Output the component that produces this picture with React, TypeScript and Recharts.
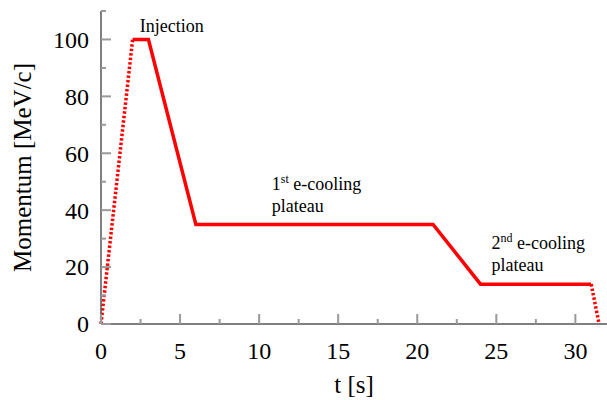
import React from "react";
import { LineChart, Line, XAxis, YAxis, ReferenceDot } from "recharts";

// ramp cycle: time [s] and momentum [MeV/c]
const times = [0, 2, 3, 6, 21, 24, 31, 31.5];
const solidMomentum = [null, 100, 100, 35, 35, 14, 14, null];
const dottedMomentum = [0, 100, null, null, null, null, 14, 0];

const xTicks = [0, 2.5, 5, 7.5, 10, 12.5, 15, 17.5, 20, 22.5, 25, 27.5, 30];
const xLabels = [0, 5, 10, 15, 20, 25, 30];
const yTicks = [0, 10, 20, 30, 40, 50, 60, 70, 80, 90, 100, 110];
const yLabels = [0, 20, 40, 60, 80, 100];

const annotations = [
  { t: 2.45, p: 102.6, lines: [{ text: "Injection" }] },
  {
    t: 10.8,
    p: 47.0,
    lines: [{ text: "1", sup: "st", rest: " e-cooling" }, { text: "plateau" }],
  },
  {
    t: 24.7,
    p: 26.3,
    lines: [{ text: "2", sup: "nd", rest: " e-cooling" }, { text: "plateau" }],
  },
];

const data = times.map((t, i) => ({
  t,
  solid: solidMomentum[i],
  dotted: dottedMomentum[i],
}));

const FONT = "'Liberation Serif', 'Times New Roman', serif";
const TICK_COLOR = "#999";
const AXIS_COLOR = "#555";
const textStyle = { fontFamily: FONT, fill: "#000" };

const BottomTick = ({ x, y, payload }: any) => {
  const major = payload.value % 5 === 0;
  return (
    <g>
      <line x1={x} x2={x} y1={y} y2={y - (major ? 10 : 5)} stroke={TICK_COLOR} strokeWidth={2} />
      {xLabels.includes(payload.value) && (
        <text x={x} y={y + 35} textAnchor="middle" style={{ ...textStyle, fontSize: 24 }}>
          {payload.value}
        </text>
      )}
    </g>
  );
};

const TopTick = ({ x, y, payload }: any) => {
  const major = payload.value % 5 === 0;
  return <line x1={x} x2={x} y1={y} y2={y + (major ? 10 : 5)} stroke={TICK_COLOR} strokeWidth={2} />;
};

const LeftTick = ({ x, y, payload }: any) => {
  const major = payload.value % 20 === 0;
  return (
    <g>
      <line x1={x} x2={x + (major ? 10 : 5)} y1={y} y2={y} stroke={TICK_COLOR} strokeWidth={2} />
      {yLabels.includes(payload.value) && (
        <text x={x - 12} y={y} dy="0.35em" textAnchor="end" style={{ ...textStyle, fontSize: 24 }}>
          {payload.value}
        </text>
      )}
    </g>
  );
};

const RightTick = ({ x, y, payload }: any) => {
  const major = payload.value % 20 === 0;
  return <line x1={x} x2={x - (major ? 10 : 5)} y1={y} y2={y} stroke={TICK_COLOR} strokeWidth={2} />;
};

const Annotation = ({ viewBox, lines }: any) => {
  const { x, y } = viewBox;
  return (
    <text x={x} y={y} style={{ ...textStyle, fontSize: 18 }}>
      {lines.map((l: any, i: number) => (
        <tspan key={i} x={x} y={y + i * 22}>
          {l.text}
          {l.sup && (
            <tspan style={{ fontSize: 12 }} dy={-7}>
              {l.sup}
            </tspan>
          )}
          {l.rest && <tspan dy={l.sup ? 7 : 0}>{l.rest}</tspan>}
        </tspan>
      ))}
    </text>
  );
};

export default function App() {
  return (
    <div style={{ position: "absolute", left: 0, top: 0 }}>
      <LineChart
        width={607}
        height={400}
        data={data}
        margin={{ top: 11, right: 0, bottom: 0, left: 0 }}
      >
        <XAxis
          dataKey="t"
          type="number"
          domain={[0, 32]}
          ticks={xTicks}
          interval={0}
          height={76}
          tickSize={0}
          tickMargin={0}
          tickLine={false}
          axisLine={{ stroke: AXIS_COLOR, strokeWidth: 1.5 }}
          tick={<BottomTick />}
          label={{
            content: ({ viewBox }: any) => (
              <text
                x={viewBox.x + viewBox.width / 2}
                y={viewBox.y + 69}
                textAnchor="middle"
                style={{ ...textStyle, fontSize: 25 }}
              >
                t [s]
              </text>
            ),
          }}
        />
        <XAxis
          xAxisId="top"
          orientation="top"
          dataKey="t"
          type="number"
          domain={[0, 32]}
          ticks={xTicks}
          interval={0}
          height={0}
          tickSize={0}
          tickMargin={0}
          tickLine={false}
          axisLine={{ stroke: AXIS_COLOR, strokeWidth: 1.5 }}
          tick={<TopTick />}
        />
        <YAxis
          type="number"
          domain={[0, 110]}
          ticks={yTicks}
          interval={0}
          width={101}
          tickSize={0}
          tickMargin={0}
          tickLine={false}
          axisLine={{ stroke: AXIS_COLOR, strokeWidth: 1.5 }}
          tick={<LeftTick />}
          label={{
            content: ({ viewBox }: any) => {
              const cx = 31;
              const cy = viewBox.y + viewBox.height / 2;
              return (
                <text
                  x={cx}
                  y={cy}
                  transform={`rotate(-90 ${cx} ${cy})`}
                  textAnchor="middle"
                  style={{ ...textStyle, fontSize: 25 }}
                >
                  Momentum [MeV/c]
                </text>
              );
            },
          }}
        />
        <YAxis
          yAxisId="right"
          orientation="right"
          type="number"
          domain={[0, 110]}
          ticks={yTicks}
          interval={0}
          width={0}
          tickSize={0}
          tickMargin={0}
          tickLine={false}
          axisLine={false}
          tick={<RightTick />}
        />
        {/* invisible copy so the mirrored top/right axes have a series */}
        <Line
          xAxisId="top"
          yAxisId="right"
          dataKey="solid"
          stroke="none"
          dot={false}
          activeDot={false}
          legendType="none"
          isAnimationActive={false}
        />
        <Line
          dataKey="solid"
          stroke="#ff0000"
          strokeWidth={3.5}
          strokeLinejoin="miter"
          dot={false}
          activeDot={false}
          connectNulls={false}
          isAnimationActive={false}
        />
        <Line
          dataKey="dotted"
          stroke="#ff0000"
          strokeWidth={3.5}
          strokeDasharray="2.5 2"
          dot={false}
          activeDot={false}
          connectNulls={false}
          isAnimationActive={false}
        />
        {annotations.map((a, i) => (
          <ReferenceDot
            key={i}
            x={a.t}
            y={a.p}
            r={0}
            fill="none"
            stroke="none"
            ifOverflow="visible"
            label={{ content: (props: any) => <Annotation viewBox={props.viewBox} lines={a.lines} /> }}
          />
        ))}
      </LineChart>
    </div>
  );
}
